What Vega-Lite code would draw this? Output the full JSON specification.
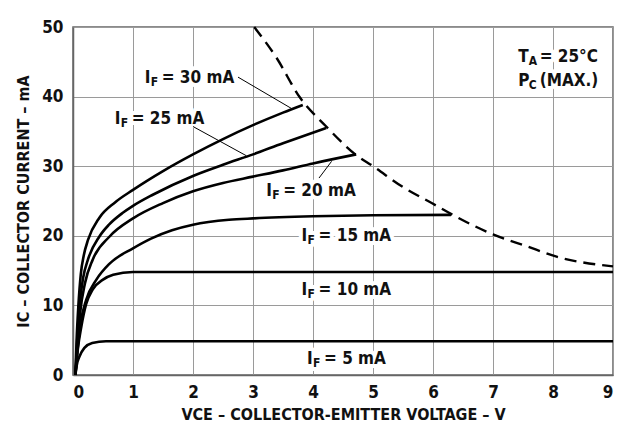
{
  "$schema": "https://vega.github.io/schema/vega-lite/v6.json",
  "width": 540,
  "height": 348,
  "autosize": {"type": "none"},
  "padding": {"left": 73, "top": 27, "right": 18, "bottom": 57},
  "background": "white",
  "config": {
    "view": {"stroke": "#666", "strokeWidth": 1.5},
    "axis": {
      "grid": true, "gridColor": "#9a9a9a", "gridWidth": 1,
      "domainColor": "#666", "domainWidth": 1.5, "ticks": false,
      "labelFont": "Liberation Sans Narrow, DejaVu Sans Condensed, sans-serif",
      "labelFontWeight": "bold", "labelFontSize": 17, "labelColor": "#111",
      "titleFont": "Liberation Sans Narrow, DejaVu Sans Condensed, sans-serif",
      "titleFontWeight": "bold", "titleFontSize": 16, "titleColor": "#111"
    },
    "text": {"font": "Liberation Sans Narrow, DejaVu Sans Condensed, sans-serif", "fontWeight": "bold", "baseline": "alphabetic", "align": "left"}
  },
  "datasets": {
    "curves": [
      {"IF": 5, "V": 0.04, "I": 0}, {"IF": 5, "V": 0.06, "I": 1.3}, {"IF": 5, "V": 0.11, "I": 2.7}, {"IF": 5, "V": 0.19, "I": 3.9}, {"IF": 5, "V": 0.32, "I": 4.6}, {"IF": 5, "V": 0.55, "I": 4.85}, {"IF": 5, "V": 1, "I": 4.85}, {"IF": 5, "V": 9, "I": 4.85},
      {"IF": 10, "V": 0.04, "I": 0}, {"IF": 10, "V": 0.08, "I": 3.7}, {"IF": 10, "V": 0.14, "I": 7}, {"IF": 10, "V": 0.22, "I": 10.2}, {"IF": 10, "V": 0.33, "I": 12.3}, {"IF": 10, "V": 0.5, "I": 13.7}, {"IF": 10, "V": 0.67, "I": 14.4}, {"IF": 10, "V": 1, "I": 14.8}, {"IF": 10, "V": 9, "I": 14.8},
      {"IF": 15, "V": 0.04, "I": 0}, {"IF": 15, "V": 0.08, "I": 4}, {"IF": 15, "V": 0.13, "I": 7.6}, {"IF": 15, "V": 0.22, "I": 10.8}, {"IF": 15, "V": 0.39, "I": 13.7}, {"IF": 15, "V": 0.61, "I": 16.0}, {"IF": 15, "V": 1, "I": 18.2}, {"IF": 15, "V": 1.3, "I": 19.6}, {"IF": 15, "V": 1.65, "I": 20.8}, {"IF": 15, "V": 2, "I": 21.6}, {"IF": 15, "V": 2.6, "I": 22.3}, {"IF": 15, "V": 3, "I": 22.5}, {"IF": 15, "V": 4, "I": 22.8}, {"IF": 15, "V": 5, "I": 22.95}, {"IF": 15, "V": 6.3, "I": 23},
      {"IF": 20, "V": 0.04, "I": 0}, {"IF": 20, "V": 0.08, "I": 5}, {"IF": 20, "V": 0.12, "I": 9}, {"IF": 20, "V": 0.2, "I": 13.2}, {"IF": 20, "V": 0.33, "I": 16.6}, {"IF": 20, "V": 0.61, "I": 19.9}, {"IF": 20, "V": 1, "I": 22.5}, {"IF": 20, "V": 1.5, "I": 24.7}, {"IF": 20, "V": 2, "I": 26.4}, {"IF": 20, "V": 2.5, "I": 27.6}, {"IF": 20, "V": 3, "I": 28.5}, {"IF": 20, "V": 3.5, "I": 29.4}, {"IF": 20, "V": 4, "I": 30.4}, {"IF": 20, "V": 4.72, "I": 31.7},
      {"IF": 25, "V": 0.04, "I": 0}, {"IF": 25, "V": 0.07, "I": 5}, {"IF": 25, "V": 0.11, "I": 10}, {"IF": 25, "V": 0.17, "I": 14}, {"IF": 25, "V": 0.25, "I": 16.6}, {"IF": 25, "V": 0.44, "I": 19.9}, {"IF": 25, "V": 0.6, "I": 21.6}, {"IF": 25, "V": 0.83, "I": 23.3}, {"IF": 25, "V": 1, "I": 24.3}, {"IF": 25, "V": 1.33, "I": 25.9}, {"IF": 25, "V": 2, "I": 28.6}, {"IF": 25, "V": 2.5, "I": 30.2}, {"IF": 25, "V": 3, "I": 31.7}, {"IF": 25, "V": 3.5, "I": 33.3}, {"IF": 25, "V": 4.22, "I": 35.5},
      {"IF": 30, "V": 0.04, "I": 0}, {"IF": 30, "V": 0.06, "I": 5}, {"IF": 30, "V": 0.09, "I": 10}, {"IF": 30, "V": 0.13, "I": 14.5}, {"IF": 30, "V": 0.18, "I": 17.2}, {"IF": 30, "V": 0.25, "I": 19.4}, {"IF": 30, "V": 0.44, "I": 22.6}, {"IF": 30, "V": 0.7, "I": 24.8}, {"IF": 30, "V": 1, "I": 26.6}, {"IF": 30, "V": 1.5, "I": 29.3}, {"IF": 30, "V": 2, "I": 31.7}, {"IF": 30, "V": 2.5, "I": 33.9}, {"IF": 30, "V": 3, "I": 35.9}, {"IF": 30, "V": 3.5, "I": 37.7}, {"IF": 30, "V": 3.83, "I": 38.8}
    ],
    "pc": [
      {"V": 3.02, "I": 50}, {"V": 3.39, "I": 45.6}, {"V": 3.78, "I": 39.9}, {"V": 4.22, "I": 35.7}, {"V": 4.72, "I": 31.6}, {"V": 5, "I": 30}, {"V": 5.5, "I": 27.0}, {"V": 6, "I": 24.6}, {"V": 6.33, "I": 23.0}, {"V": 7, "I": 20.2}, {"V": 7.56, "I": 18.5}, {"V": 8.06, "I": 17.0}, {"V": 9, "I": 15.6}
    ],
    "leaders": [
      {"V": 2.75, "I": 42.8, "V2": 3.64, "I2": 38.3},
      {"V": 2.0, "I": 35.7, "V2": 2.89, "I2": 31.5},
      {"V": 4.31, "I": 30.7, "V2": 4.1, "I2": 28.3}
    ],
    "labels": [
      {"V": 1.195, "I": 41.9, "main": "I", "sub": "F", "rest": "= 30 mA", "kind": "IF"},
      {"V": 0.695, "I": 36.0, "main": "I", "sub": "F", "rest": "= 25 mA", "kind": "IF"},
      {"V": 3.22, "I": 25.65, "main": "I", "sub": "F", "rest": "= 20 mA", "kind": "IF"},
      {"V": 3.81, "I": 19.2, "main": "I", "sub": "F", "rest": "= 15 mA", "kind": "IF"},
      {"V": 3.81, "I": 11.55, "main": "I", "sub": "F", "rest": "= 10 mA", "kind": "IF"},
      {"V": 3.9, "I": 1.65, "main": "I", "sub": "F", "rest": "= 5 mA", "kind": "IF"},
      {"V": 7.42, "I": 44.9, "main": "T", "sub": "A", "rest": "= 25°C", "kind": "TP"},
      {"V": 7.42, "I": 41.55, "main": "P", "sub": "C", "rest": "(MAX.)", "kind": "TP"}
    ]
  },
  "encoding": {
    "x": {"field": "V", "type": "quantitative", "scale": {"domain": [0, 9], "nice": false},
          "axis": {"values": [0, 1, 2, 3, 4, 5, 6, 7, 8, 9], "labelPadding": 9, "titlePadding": 6, "title": "VCE – COLLECTOR-EMITTER VOLTAGE – V"}},
    "y": {"field": "I", "type": "quantitative", "scale": {"domain": [0, 50], "nice": false},
          "axis": {"values": [0, 10, 20, 30, 40, 50], "labelPadding": 10, "titlePadding": 10, "title": "IC – COLLECTOR CURRENT – mA"}}
  },
  "layer": [
    {"data": {"name": "labels"}, "mark": {"type": "text", "fontSize": 17, "color": "white", "stroke": "white", "strokeWidth": 8, "strokeJoin": "round"}, "encoding": {"text": {"field": "main"}}},
    {"data": {"name": "labels"}, "transform": [{"filter": "datum.kind == 'IF'"}], "mark": {"type": "text", "fontSize": 12, "dx": 6, "dy": 3, "color": "white", "stroke": "white", "strokeWidth": 8, "strokeJoin": "round"}, "encoding": {"text": {"field": "sub"}}},
    {"data": {"name": "labels"}, "transform": [{"filter": "datum.kind == 'IF'"}], "mark": {"type": "text", "fontSize": 17, "dx": 17, "color": "white", "stroke": "white", "strokeWidth": 8, "strokeJoin": "round"}, "encoding": {"text": {"field": "rest"}}},
    {"data": {"name": "labels"}, "transform": [{"filter": "datum.kind == 'TP'"}], "mark": {"type": "text", "fontSize": 12, "dx": 10.5, "dy": 3, "color": "white", "stroke": "white", "strokeWidth": 8, "strokeJoin": "round"}, "encoding": {"text": {"field": "sub"}}},
    {"data": {"name": "labels"}, "transform": [{"filter": "datum.kind == 'TP'"}], "mark": {"type": "text", "fontSize": 17, "dx": 21.5, "color": "white", "stroke": "white", "strokeWidth": 8, "strokeJoin": "round"}, "encoding": {"text": {"field": "rest"}}},
    {"data": {"name": "curves"}, "mark": {"type": "line", "color": "black", "strokeWidth": 2.6, "interpolate": "monotone"}, "encoding": {"detail": {"field": "IF"}}},
    {"data": {"name": "pc"}, "mark": {"type": "line", "color": "black", "strokeWidth": 2.4, "strokeDash": [12, 7], "interpolate": "monotone"}, "encoding": {}},
    {"data": {"name": "leaders"}, "mark": {"type": "rule", "color": "black", "strokeWidth": 1}, "encoding": {"x2": {"field": "V2"}, "y2": {"field": "I2"}}},
    {"data": {"name": "labels"}, "mark": {"type": "text", "fontSize": 17, "color": "#111"}, "encoding": {"text": {"field": "main"}}},
    {"data": {"name": "labels"}, "transform": [{"filter": "datum.kind == 'IF'"}], "mark": {"type": "text", "fontSize": 12, "dx": 6, "dy": 3, "color": "#111"}, "encoding": {"text": {"field": "sub"}}},
    {"data": {"name": "labels"}, "transform": [{"filter": "datum.kind == 'IF'"}], "mark": {"type": "text", "fontSize": 17, "dx": 17, "color": "#111"}, "encoding": {"text": {"field": "rest"}}},
    {"data": {"name": "labels"}, "transform": [{"filter": "datum.kind == 'TP'"}], "mark": {"type": "text", "fontSize": 12, "dx": 10.5, "dy": 3, "color": "#111"}, "encoding": {"text": {"field": "sub"}}},
    {"data": {"name": "labels"}, "transform": [{"filter": "datum.kind == 'TP'"}], "mark": {"type": "text", "fontSize": 17, "dx": 21.5, "color": "#111"}, "encoding": {"text": {"field": "rest"}}}
  ]
}
